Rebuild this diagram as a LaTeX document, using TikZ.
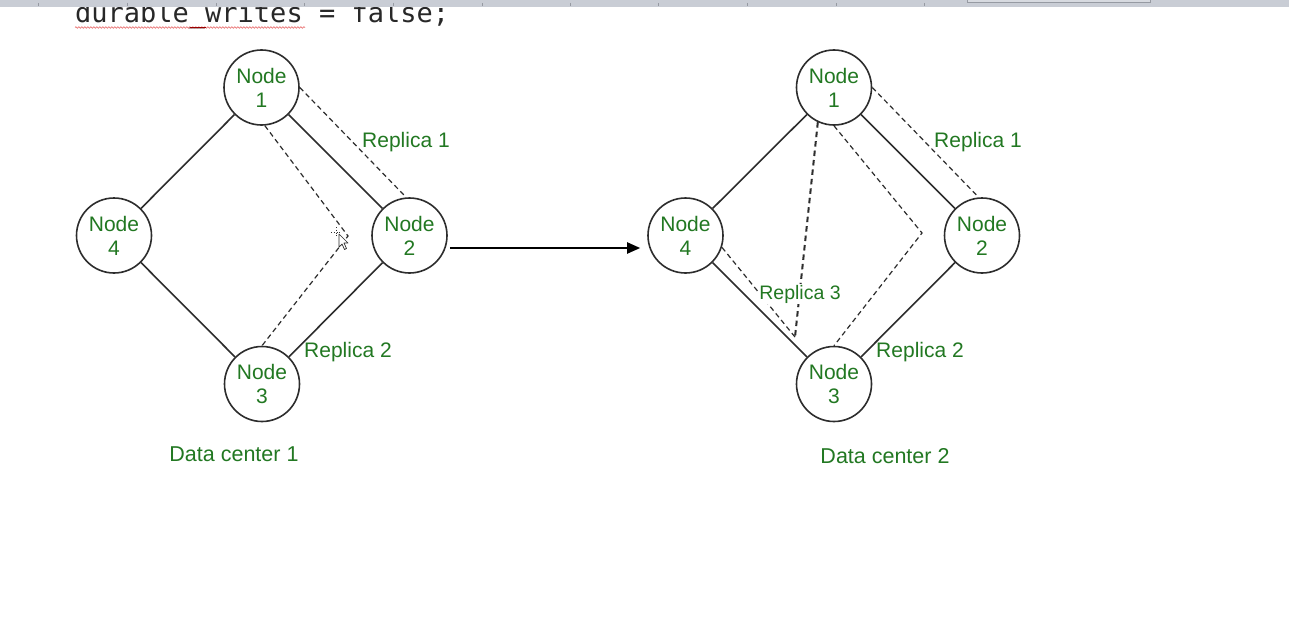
\documentclass[tikz,border=0pt]{standalone}
\usepackage{fontspec}
\setmainfont{Liberation Sans}
\newfontfamily\codefont{DejaVu Sans Mono}
\usetikzlibrary{arrows.meta,decorations.pathmorphing}
\definecolor{txtgreen}{RGB}{34,120,34}
\definecolor{edgegrey}{RGB}{45,45,45}
\definecolor{barbg}{RGB}{201,205,213}
\definecolor{tickc}{RGB}{150,154,162}
\definecolor{codec}{RGB}{40,40,40}
\definecolor{squig}{RGB}{235,120,120}
\begin{document}
\begin{tikzpicture}[x=1pt,y=-1pt,
  dbnode/.style={circle,draw=edgegrey,line width=1.6pt,minimum size=75pt,inner sep=0pt,
    align=center,text=txtgreen,font=\fontsize{21}{24}\selectfont},
  link/.style={draw=edgegrey,line width=1.6pt},
  replink/.style={draw=edgegrey,line width=1.2pt,dash pattern=on 5pt off 3.5pt},
  replinkbold/.style={draw=edgegrey,line width=2pt,dash pattern=on 5.5pt off 4pt},
  lbl/.style={text=txtgreen,font=\fontsize{21}{24}\selectfont,inner sep=1pt},
  lbldc/.style={text=txtgreen,font=\fontsize{21.5}{24}\selectfont,inner sep=1pt},
  lblsmall/.style={text=txtgreen,font=\fontsize{19.5}{22}\selectfont,inner sep=1pt,fill=white},
  flow/.style={draw=black,line width=2pt,-{Triangle[length=13pt,width=11pt]}}
]
\useasboundingbox (0,0) rectangle (1289,626);
\fill[white] (0,0) rectangle (1289,626);

% code line at top (partly hidden by the bar)
\node[anchor=base west,inner sep=0pt,text=codec,font=\codefont\fontsize{27}{30}\selectfont] (code) at (75,23) {durable\_writes = false;};
\draw[squig,line width=0.7pt,decorate,decoration={snake,amplitude=0.8pt,segment length=3pt}] (75,27.5) -- (305,27.5);
\draw[red!60!black,line width=1.5pt] (190,27.5) -- (206,27.5);

% top bar
\fill[barbg] (0,0) rectangle (1289,7);
\foreach \tx in {38,127,216,304,393,482,570,658,747,836,924}
  \draw[tickc,line width=1pt] (\tx,3) -- (\tx,6.5);
\draw[tickc,fill={rgb,255:red,215;green,218;blue,224},line width=0.8pt] (967,-1) rectangle (1150,2);

% ---------- Data center 1 ----------
\node[dbnode] (a1) at (261.5,87.5) {Node\\1};
\node[dbnode] (a2) at (409.5,235.5) {Node\\2};
\node[dbnode] (a3) at (262,384) {Node\\3};
\node[dbnode] (a4) at (114,235.5) {Node\\4};
\draw[link] (a1) -- (a4);
\draw[link] (a1) -- (a2);
\draw[link] (a4) -- (a3);
\draw[link] (a2) -- (a3);
\coordinate (ac2) at (348,236);
\draw[replink] (a1.east) -- (a2.95);
\draw[replink] (a1.-85) -- (ac2) -- (a3.north);
\node[lbl] (ar1) at (406,142) {Replica 1};
\node[lbl] (ar2) at (348,352) {Replica 2};
\node[lbldc] (adc) at (234,454) {Data center 1};

% mouse cursor artefact
\draw[edgegrey,line width=0.8pt,dotted] (331,232) -- (341,232) (336,227) -- (336,237);
\draw[edgegrey,fill=white,line width=0.7pt,line join=round] (339,234) -- (339,247) -- (342,244) -- (344.5,249.5) -- (346.5,248.5) -- (344,243) -- (348,243) -- cycle;

% ---------- Data center 2 ----------
\node[dbnode] (b1) at (834,87.5) {Node\\1};
\node[dbnode] (b2) at (982,235.5) {Node\\2};
\node[dbnode] (b3) at (834,384) {Node\\3};
\node[dbnode] (b4) at (685.5,235.5) {Node\\4};
\draw[link] (b1) -- (b4);
\draw[link] (b1) -- (b2);
\draw[link] (b4) -- (b3);
\draw[link] (b2) -- (b3);
\coordinate (bc2) at (922,233);
\coordinate (bc3) at (795,337);
\draw[replink] (b1.east) -- (b2.95);
\draw[replink] (b1.south) -- (bc2) -- (b3.north);
\draw[replink] (bc3) -- (b4.-18);
\draw[replinkbold] (b1.245) -- (bc3);
\node[lbl] (br1) at (978,142) {Replica 1};
\node[lbl] (br2) at (920,352) {Replica 2};
\node[lblsmall] (br3) at (800,294) {Replica 3};
\node[lbldc] (bdc) at (885,456) {Data center 2};

% transition arrow
\draw[flow,shorten <=2pt,shorten >=7pt] ([yshift=-12.5pt]a2.east) -- ([yshift=-12.5pt]b4.west);
\end{tikzpicture}
\end{document}
